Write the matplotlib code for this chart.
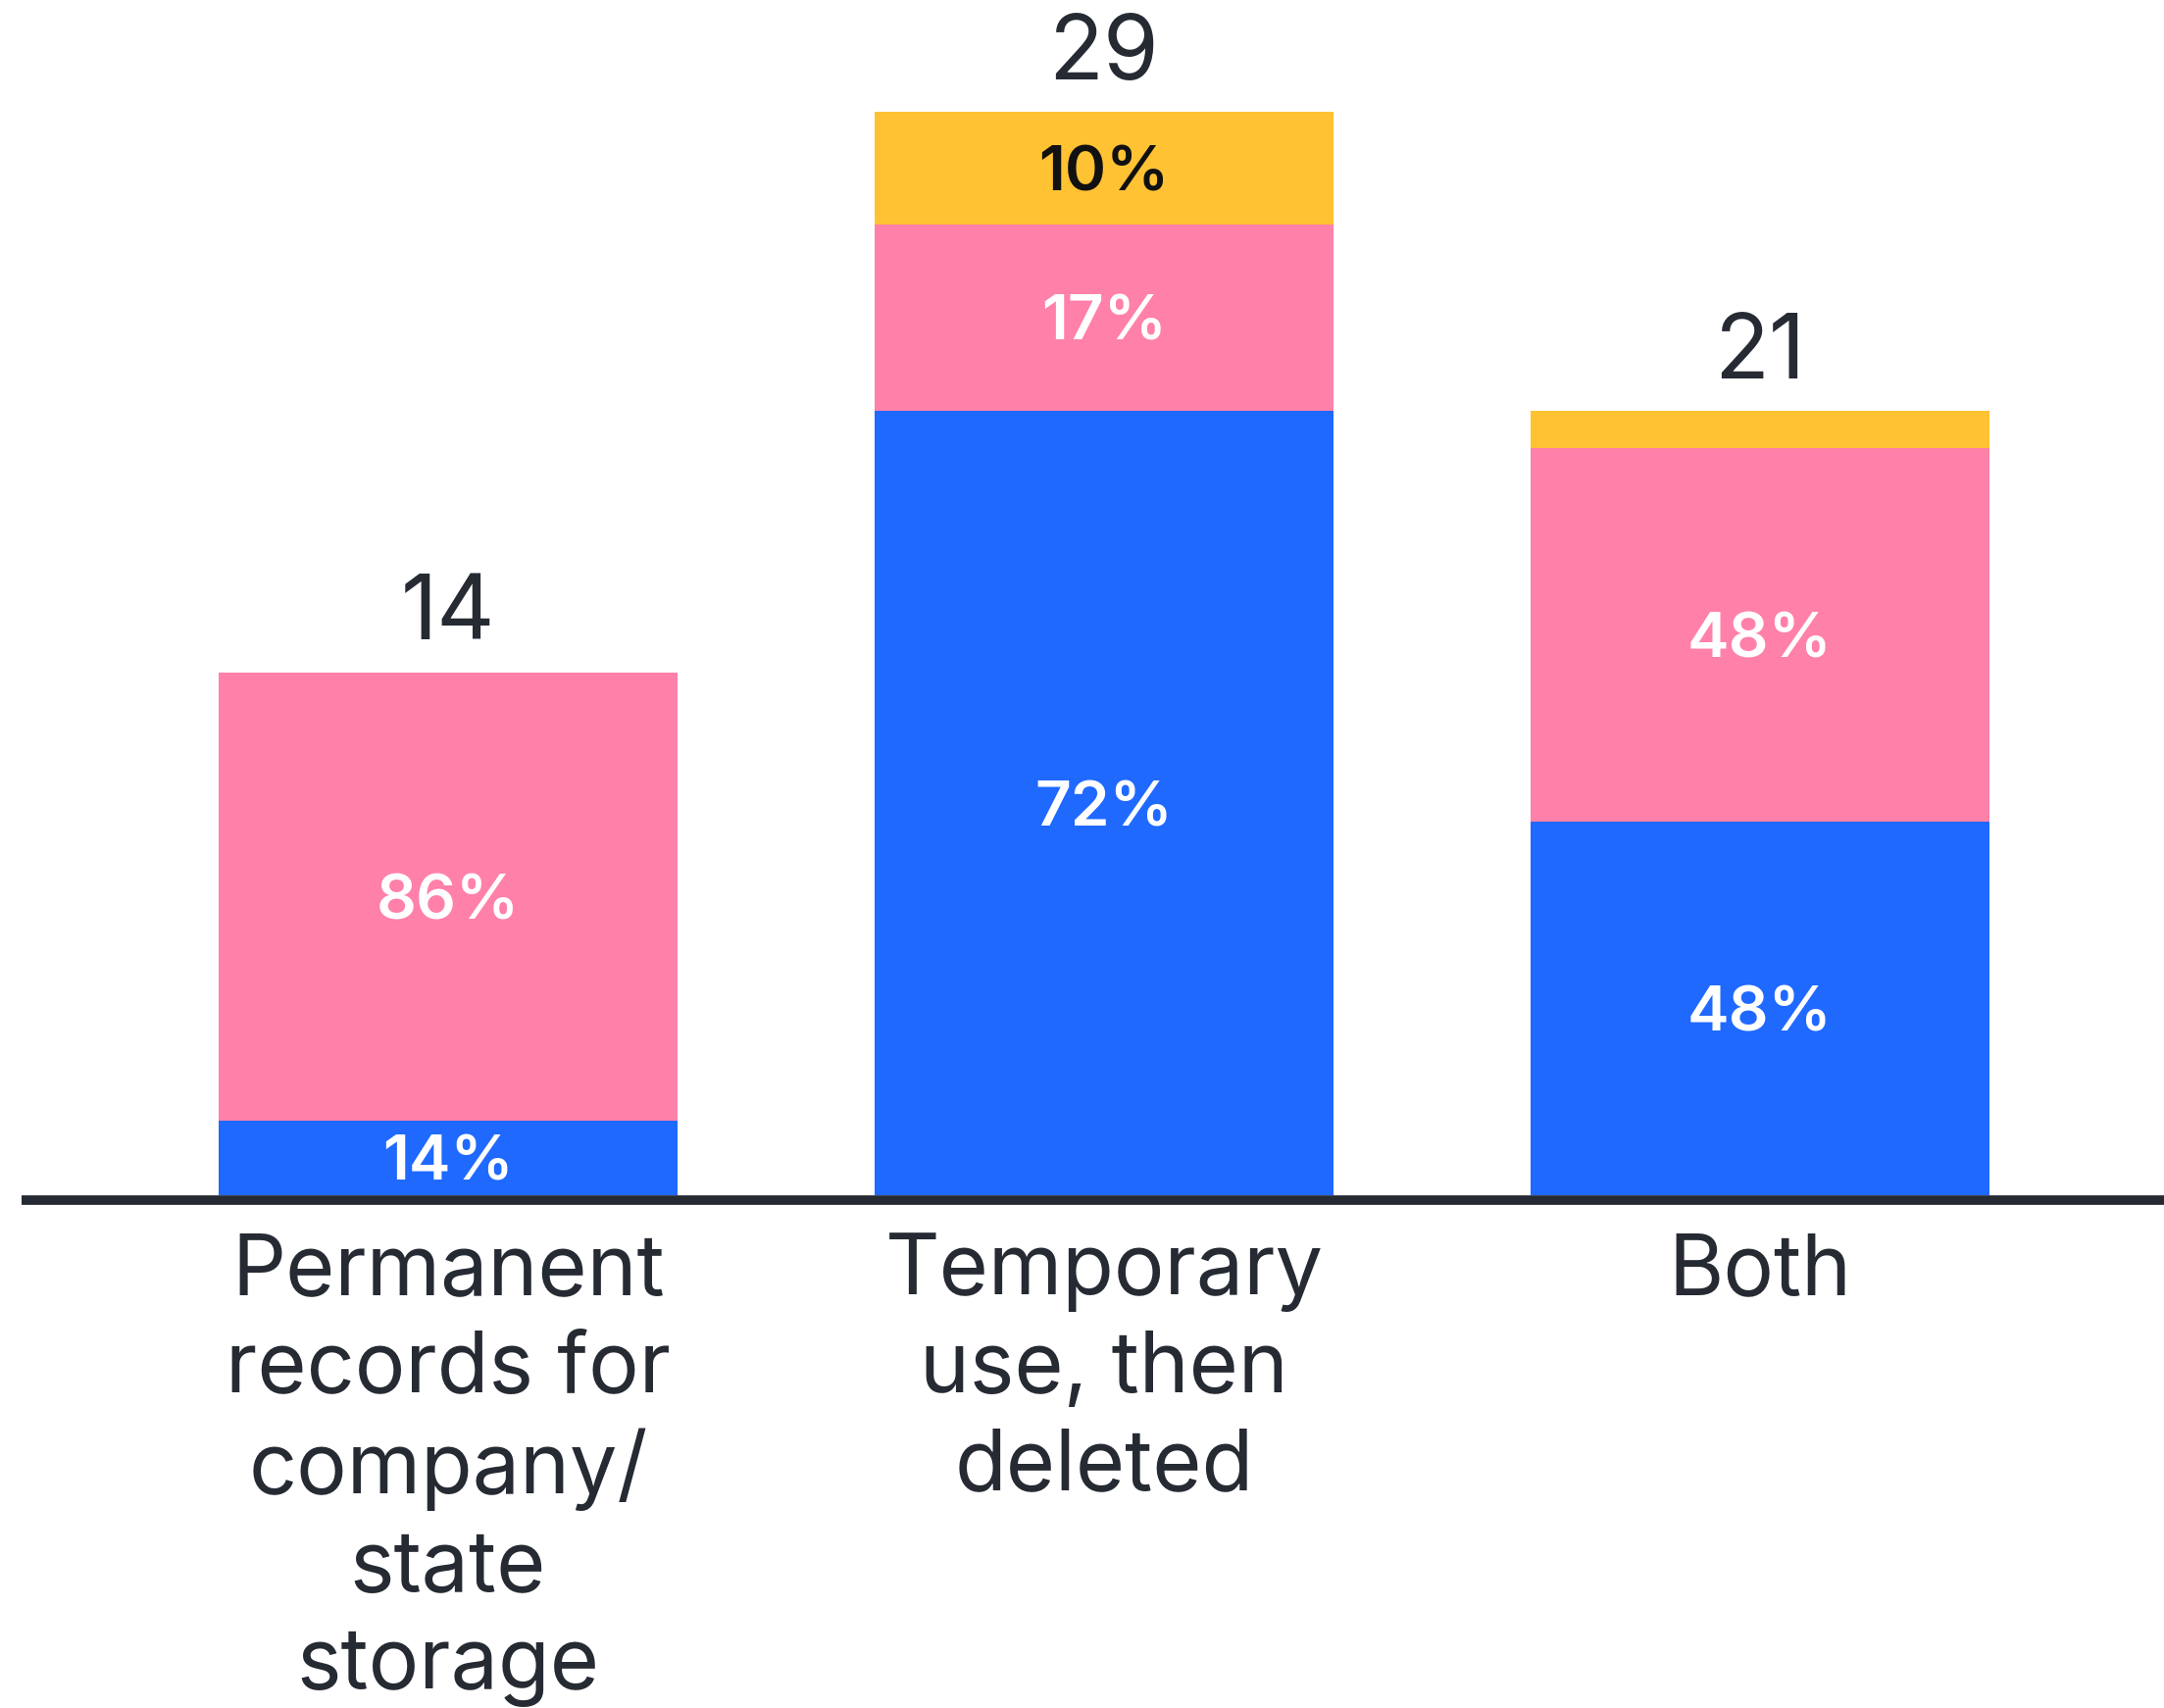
import matplotlib
matplotlib.use("Agg")
import matplotlib.pyplot as plt
import numpy as np

categories = ["Permanent\nrecords for\ncompany/\nstate\nstorage",
              "Temporary\nuse, then\ndeleted",
              "Both"]
blue_vals = [2, 21, 10]
pink_vals = [12, 5, 10]
yellow_vals = [0, 3, 1]
totals = [14, 29, 21]
blue_labels = ["14%", "72%", "48%"]
pink_labels = ["86%", "17%", "48%"]
yellow_labels = ["", "10%", ""]

BLUE = "#1F69FF"
PINK = "#FF80A8"
YELLOW = "#FFC233"
DARK = "#262A33"

plt.rcParams['font.family'] = ['Inter', 'DejaVu Sans']

fig = plt.figure(figsize=(22.07, 17.42), dpi=100)
ax = fig.add_axes([0, 0.3002, 1, 0.6998])

x = np.arange(len(categories))
w = 0.70
b = np.array(blue_vals, dtype=float)
p = np.array(pink_vals, dtype=float)
yv = np.array(yellow_vals, dtype=float)

ax.bar(x, b, w, color=BLUE, linewidth=0)
ax.bar(x, p, w, bottom=b, color=PINK, linewidth=0)
ax.bar(x, yv, w, bottom=b + p, color=YELLOW, linewidth=0)

pct_fs = 46
pct_kw = dict(ha='center', va='center_baseline', fontsize=pct_fs, fontweight='semibold')
for i in range(len(x)):
    if blue_labels[i]:
        ax.text(x[i], b[i] / 2, blue_labels[i], color='white', **pct_kw)
    if pink_labels[i]:
        ax.text(x[i], b[i] + p[i] / 2, pink_labels[i], color='white', **pct_kw)
    if yellow_labels[i]:
        ax.text(x[i], b[i] + p[i] + yv[i] / 2, yellow_labels[i],
                color='#111111', **pct_kw)
    ax.annotate(str(totals[i]), (x[i], b[i] + p[i] + yv[i]),
                xytext=(0, 24), textcoords='offset points',
                ha='center', va='baseline', color=DARK, fontsize=66)

ax.set_xlim(-0.683, 2.616)
ax.set_ylim(0, 32)

for s in ['top', 'right', 'left']:
    ax.spines[s].set_visible(False)
ax.spines['bottom'].set_position(('outward', 3.5))
ax.spines['bottom'].set_bounds(-0.65, 2.616)
ax.spines['bottom'].set_linewidth(7)
ax.spines['bottom'].set_color(DARK)
ax.spines['bottom'].set_capstyle('butt')

ax.set_yticks([])
ax.set_xticks(x)
ax.set_xticklabels(categories, fontsize=62, color=DARK, linespacing=1.29)
ax.tick_params(axis='x', length=0, pad=24)

ax.patch.set_alpha(0)
fig.savefig("out.png", dpi=100, facecolor='white')
